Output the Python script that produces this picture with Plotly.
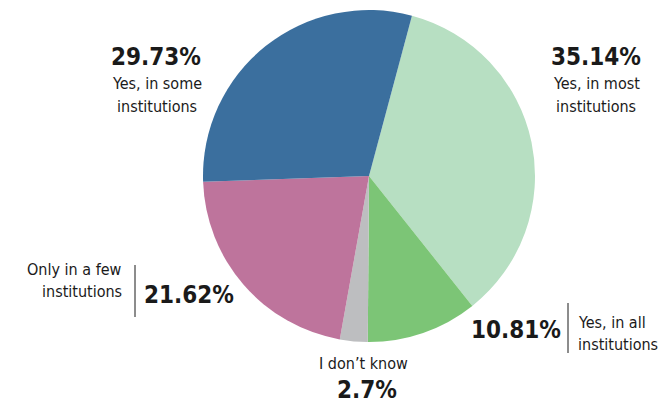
import plotly.graph_objects as go

categories = ["Yes, in most institutions", "Yes, in all institutions", "I don't know",
              "Only in a few institutions", "Yes, in some institutions"]
values = [35.14, 10.81, 2.7, 21.62, 29.73]
colors = ["#b7dfc2", "#7cc576", "#bdbec0", "#be749c", "#3b6f9e"]

W, H = 661, 405
FONT = "DejaVu Sans Condensed, Liberation Sans Narrow, Arial Narrow, sans-serif"
TXT = "#1a1a1a"

def px(x):
    return x / W

def py(y):
    return 1 - y / H

fig = go.Figure(go.Pie(
    labels=categories, values=values, sort=False, direction="clockwise",
    rotation=15, marker=dict(colors=colors, line=dict(width=0)),
    textinfo="none", hoverinfo="label+percent", showlegend=False,
    domain=dict(x=[px(369 - 166), px(369 + 166)], y=[py(176 + 166), py(176 - 166)]),
))

pct = {c: f"{v}%" for c, v in zip(categories, values)}
ann = []

def add(text, x, y, size, bold=False, xanchor="center"):
    ann.append(dict(text=f"<b>{text}</b>" if bold else text, x=px(x), y=py(y),
                    xref="paper", yref="paper", xanchor=xanchor, yanchor="middle",
                    showarrow=False, font=dict(family=FONT, size=size, color=TXT)))

PS, LS = 24, 16
# Yes, in some
add(pct[categories[4]], 156, 57, PS, True)
add("Yes, in some", 157, 83, LS)
add("institutions", 157, 107, LS)
# Yes, in most
add(pct[categories[0]], 596, 57, PS, True)
add("Yes, in most", 596, 83, LS)
add("institutions", 596, 107, LS)
# Only in a few
add("Only in a few", 124, 269, LS, xanchor="right")
add("institutions", 124, 291, LS, xanchor="right")
add(pct[categories[3]], 142, 295, PS, True, xanchor="left")
# Yes, in all
add(pct[categories[1]], 563, 330, PS, True, xanchor="right")
add("Yes, in all", 576, 322, LS, xanchor="left")
add("institutions", 576, 344, LS, xanchor="left")
# I don't know
add("I don\u2019t know", 363, 363, LS)
add(pct[categories[2]], 367, 390, PS, True)

shapes = [
    dict(type="line", xref="paper", yref="paper", x0=px(135), x1=px(135), y0=py(265), y1=py(317),
         line=dict(color=TXT, width=1)),
    dict(type="line", xref="paper", yref="paper", x0=px(568), x1=px(568), y0=py(303), y1=py(353),
         line=dict(color=TXT, width=1)),
]

fig.update_layout(width=W, height=H, margin=dict(l=0, r=0, t=0, b=0),
                  paper_bgcolor="white", plot_bgcolor="white",
                  annotations=ann, shapes=shapes)
fig.write_html("out.html", config={"displayModeBar": False},
               post_script="document.body.style.margin='0';document.body.style.overflow='hidden';")
